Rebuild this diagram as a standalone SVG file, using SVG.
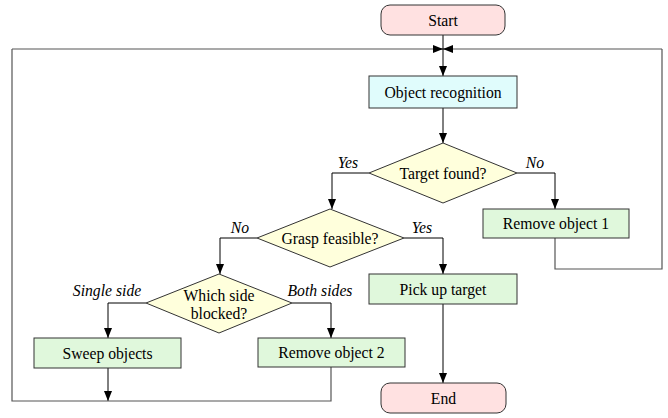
<svg xmlns="http://www.w3.org/2000/svg" width="668" height="418" viewBox="0 0 668 418">
<defs>
<marker id="ah" viewBox="0 0 10 8" refX="10" refY="4" markerWidth="10" markerHeight="8" markerUnits="userSpaceOnUse" orient="auto">
<path d="M0,0 L10,4 L0,8 Z" fill="#000"/>
</marker>
</defs>
<style>
text{font-family:"Liberation Serif","Times New Roman",serif;font-size:15.7px;fill:#000;text-anchor:middle;dominant-baseline:central}
.lbl{font-style:italic}
.term{fill:#ffe1e1;stroke:#333;stroke-width:1}
.proc{fill:#e0f8dc;stroke:#333;stroke-width:1}
.rec{fill:#e0fcfc;stroke:#333;stroke-width:1}
.dec{fill:#ffffdc;stroke:#333;stroke-width:1}
.edge{fill:none;stroke:#000;stroke-width:1}
.loop{fill:none;stroke:#555;stroke-width:1.2}
</style>
<g id="connectors">
<path class="loop" d="M12,49 H434"/>
<path class="loop" d="M662,49 H452"/>
<path class="edge" d="M433,49 H443" marker-end="url(#ah)"/>
<path class="edge" d="M453,49 H443" marker-end="url(#ah)"/>
<path class="edge" d="M443,35 V76" marker-end="url(#ah)"/>
<path class="edge" d="M443,108 V143" marker-end="url(#ah)"/>
<path class="edge" d="M369,173 H332 V209" marker-end="url(#ah)"/>
<path class="edge" d="M517,173 H555 V209" marker-end="url(#ah)"/>
<path class="loop" d="M555,238 V269 H662 V49"/>
<path class="edge" d="M257,238 H220 V274" marker-end="url(#ah)"/>
<path class="edge" d="M404,238 H443 V274" marker-end="url(#ah)"/>
<path class="edge" d="M146,303 H108 V338" marker-end="url(#ah)"/>
<path class="edge" d="M292,303 H331 V338" marker-end="url(#ah)"/>
<path class="edge" d="M443,304 V383" marker-end="url(#ah)"/>
<path class="edge" d="M108,368 V401" marker-end="url(#ah)"/>
<path class="loop" d="M331,367 V401 H12 V49"/>
</g>
<g id="start"><rect class="term" x="381" y="5" width="124" height="30" rx="9"/><text x="443" y="20">Start</text></g>
<g id="recognition"><rect class="rec" x="369" y="76" width="148" height="32"/><text x="443" y="92">Object recognition</text></g>
<g id="target-found"><polygon class="dec" points="443,143 517,173 443,203 369,173"/><text x="443" y="173">Target found?</text></g>
<g id="remove1"><rect class="proc" x="483" y="209" width="146" height="29"/><text x="556" y="223.5">Remove object 1</text></g>
<g id="grasp"><polygon class="dec" points="330,209 404,238 330,267 257,238"/><text x="330" y="238">Grasp feasible?</text></g>
<g id="pickup"><rect class="proc" x="369" y="274" width="148" height="30"/><text x="443" y="289">Pick up target</text></g>
<g id="which-side"><polygon class="dec" points="219,274 292,303 219,333 146,303"/><text x="219" y="295">Which side</text><text x="219" y="313">blocked?</text></g>
<g id="sweep"><rect class="proc" x="34" y="338" width="147" height="30"/><text x="107.5" y="353">Sweep objects</text></g>
<g id="remove2"><rect class="proc" x="258" y="338" width="147" height="29"/><text x="331.5" y="352.5">Remove object 2</text></g>
<g id="end"><rect class="term" x="381" y="383" width="125" height="30" rx="9"/><text x="443.5" y="398">End</text></g>
<g id="labels">
<text class="lbl" x="348" y="162">Yes</text>
<text class="lbl" x="535" y="162">No</text>
<text class="lbl" x="240" y="227">No</text>
<text class="lbl" x="422" y="227">Yes</text>
<text class="lbl" x="107" y="290">Single side</text>
<text class="lbl" x="320" y="290">Both sides</text>
</g>
</svg>
